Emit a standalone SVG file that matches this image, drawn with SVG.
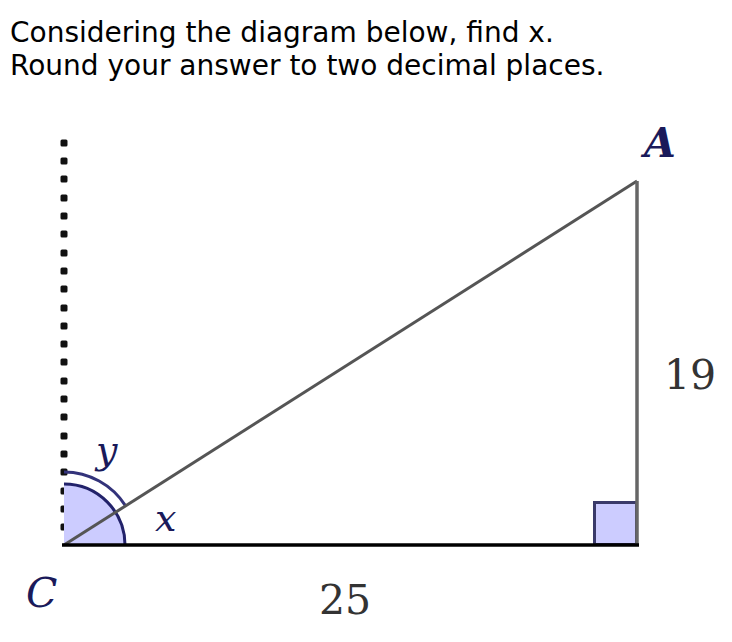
<svg xmlns="http://www.w3.org/2000/svg" width="732" height="642" viewBox="0 0 732 642">
<style>
.q{font-family:"DejaVu Sans",sans-serif;font-size:28px;fill:#000}
.lbl{font-family:"DejaVu Serif","Liberation Serif",serif;font-style:italic;fill:#1a1a5a}
.num{font-family:"DejaVu Serif","Liberation Serif",serif;font-size:41px;fill:#333}
.dot{fill:#111}
</style>
<rect width="732" height="642" fill="#fff"/>
<text class="q" x="10" y="42">Considering the diagram below, find x.</text>
<text class="q" x="10" y="75">Round your answer to two decimal places.</text>
<g id="dotted-line">
<g class="dot">
<rect x="60.5" y="139.5" width="7" height="7" rx="1.5"/><rect x="60.5" y="157.5" width="7" height="7" rx="1.5"/><rect x="60.5" y="175.5" width="7" height="7" rx="1.5"/><rect x="60.5" y="194.5" width="7" height="7" rx="1.5"/><rect x="60.5" y="212.5" width="7" height="7" rx="1.5"/><rect x="60.5" y="230.5" width="7" height="7" rx="1.5"/><rect x="60.5" y="249.5" width="7" height="7" rx="1.5"/><rect x="60.5" y="267.5" width="7" height="7" rx="1.5"/><rect x="60.5" y="285.5" width="7" height="7" rx="1.5"/><rect x="60.5" y="304.5" width="7" height="7" rx="1.5"/><rect x="60.5" y="322.5" width="7" height="7" rx="1.5"/><rect x="60.5" y="340.5" width="7" height="7" rx="1.5"/><rect x="60.5" y="358.5" width="7" height="7" rx="1.5"/><rect x="60.5" y="377.5" width="7" height="7" rx="1.5"/><rect x="60.5" y="395.5" width="7" height="7" rx="1.5"/><rect x="60.5" y="413.5" width="7" height="7" rx="1.5"/><rect x="60.5" y="432.5" width="7" height="7" rx="1.5"/><rect x="60.5" y="450.5" width="7" height="7" rx="1.5"/><rect x="60.5" y="468.5" width="7" height="7" rx="1.5"/><rect x="60.5" y="487.5" width="7" height="7" rx="1.5"/><rect x="60.5" y="505.5" width="7" height="7" rx="1.5"/><rect x="60.5" y="523.5" width="7" height="7" rx="1.5"/>
</g>
</g>
<g id="angle-marks">
<path d="M64,545 L125,545 A61,61 0 0 0 64,484 Z" fill="#ccccff" stroke="none"/>
<path d="M125,545 A61,61 0 0 0 64,484" fill="none" stroke="#22226a" stroke-width="3"/>
<path d="M125.6,505.9 A73,73 0 0 0 64,472" fill="none" stroke="#33337a" stroke-width="3"/>
</g>
<g id="right-angle">
<rect x="594.5" y="502.5" width="42" height="42" fill="#ccccff" stroke="#3a3a6a" stroke-width="3"/>
</g>
<g id="sides">
<line x1="64" y1="545" x2="637" y2="181" stroke="#555" stroke-width="3"/>
<line x1="637" y1="181" x2="637" y2="546" stroke="#666" stroke-width="3.5"/>
<line x1="62" y1="545" x2="639" y2="545" stroke="#000" stroke-width="3.5"/>
</g>
<g id="labels">
<text class="lbl" x="644" y="157" font-size="41" font-weight="bold">A</text>
<text class="lbl" x="26" y="607" font-size="41">C</text>
<text class="lbl" x="96" y="463" font-size="38" fill="#222">y</text>
<text class="lbl" x="155" y="531" font-size="38" fill="#222">x</text>
<text class="num" x="664" y="389">19</text>
<text class="num" x="319" y="614">25</text>
</g>
</svg>
